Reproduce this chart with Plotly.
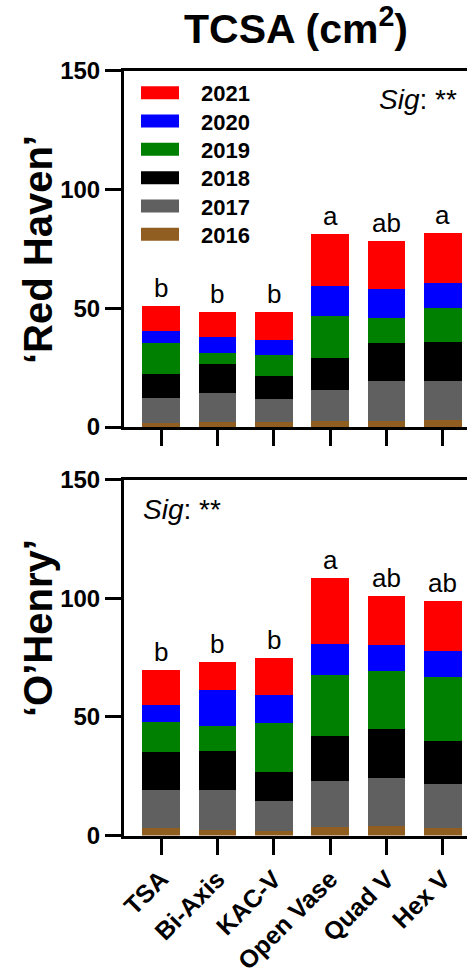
import plotly.graph_objects as go

W, H = 467, 972

categories = ["TSA", "Bi-Axis", "KAC-V", "Open Vase", "Quad V", "Hex V"]
years = ["2016", "2017", "2018", "2019", "2020", "2021"]
colors = ["#8F5E20", "#606060", "#000000", "#008000", "#0000FF", "#FF0000"]
y_ticks = [0, 50, 100, 150]

# 'Red Haven' yearly TCSA increments (cm2)
rh_2016 = [1.8, 2.0, 2.0, 2.4, 2.7, 2.8]
rh_2017 = [10.4, 12.5, 9.7, 13.2, 16.5, 16.6]
rh_2018 = [10.1, 12.2, 9.8, 13.5, 16.3, 16.4]
rh_2019 = [13.1, 4.5, 8.7, 17.4, 10.3, 14.3]
rh_2020 = [4.9, 6.7, 6.5, 12.9, 12.2, 10.7]
rh_2021 = [10.5, 10.3, 11.5, 21.8, 20.4, 20.8]
rh_letters = ["b", "b", "b", "a", "ab", "a"]

# 'O'Henry' yearly TCSA increments (cm2)
oh_2016 = [3.2, 2.5, 2.0, 3.4, 3.9, 3.0]
oh_2017 = [16.1, 16.7, 12.6, 19.4, 20.5, 18.5]
oh_2018 = [15.9, 16.4, 12.2, 19.0, 20.5, 18.5]
oh_2019 = [12.8, 10.7, 20.8, 25.7, 24.4, 26.9]
oh_2020 = [6.9, 15.2, 11.4, 13.3, 10.8, 10.7]
oh_2021 = [14.8, 11.7, 15.9, 27.7, 20.7, 21.4]
oh_letters = ["b", "b", "b", "a", "ab", "ab"]

rh_series = [rh_2016, rh_2017, rh_2018, rh_2019, rh_2020, rh_2021]
oh_series = [oh_2016, oh_2017, oh_2018, oh_2019, oh_2020, oh_2021]

FONT = "Liberation Sans"

def py(px):
    return 1 - px / H

def pxx(px):
    return px / W

fig = go.Figure()

for series, xa, ya in [(rh_series, "x", "y"), (oh_series, "x2", "y2")]:
    for yr, col, vals in zip(years, colors, series):
        fig.add_trace(go.Bar(
            x=categories, y=vals, name=yr, marker=dict(color=col, line=dict(width=0)),
            width=0.67, xaxis=xa, yaxis=ya, showlegend=False,
        ))

axis_common = dict(showline=True, linewidth=3, linecolor="black", ticks="outside",
                   ticklen=16, tickwidth=3, tickcolor="black", showgrid=False, zeroline=False,
                   automargin=False)

xdom = [124 / W, 1]
xrange_ = [-0.656, 5.426]

fig.update_layout(
    width=W, height=H, margin=dict(l=0, r=0, t=0, b=0, pad=0), autosize=False,
    plot_bgcolor="white", paper_bgcolor="white", barmode="stack",
    font=dict(family=FONT, color="black"),
    xaxis=dict(domain=xdom, anchor="y", range=xrange_, type="category",
               showticklabels=False, mirror=True, **axis_common),
    yaxis=dict(domain=[py(427), py(70.5)], anchor="x", range=[0, 150],
               tickvals=y_ticks, tickfont=dict(size=24, family=FONT, weight="bold"), **axis_common),
    xaxis2=dict(domain=xdom, anchor="y2", range=xrange_, type="category",
                tickangle=-45, tickfont=dict(size=25, family=FONT, weight="bold"),
                mirror=True, **axis_common),
    yaxis2=dict(domain=[py(835.5), py(479.5)], anchor="x2", range=[0, 150],
                tickvals=y_ticks, tickfont=dict(size=24, family=FONT, weight="bold"), **axis_common),
)

annotations = []
# significance letters above bars
for series, letters, xr, yr in [(rh_series, rh_letters, "x", "y"), (oh_series, oh_letters, "x2", "y2")]:
    totals = [sum(v[i] for v in series) for i in range(len(categories))]
    for c, t, l in zip(categories, totals, letters):
        annotations.append(dict(x=c, y=t, xref=xr, yref=yr, text=l, showarrow=False,
                                yanchor="bottom", yshift=1, font=dict(size=26, family=FONT)))

# title
annotations.append(dict(x=pxx(296), y=py(26), xref="paper", yref="paper",
                        text="<b>TCSA (cm<sup>2</sup>)</b>", showarrow=False,
                        xanchor="center", yanchor="middle", font=dict(size=41, family=FONT)))
# row titles
annotations.append(dict(x=pxx(38), y=py(250), xref="paper", yref="paper",
                        text="<b>‘Red Haven’</b>", textangle=-90, showarrow=False,
                        xanchor="center", yanchor="middle", font=dict(size=40, family=FONT)))
annotations.append(dict(x=pxx(38), y=py(628), xref="paper", yref="paper",
                        text="<b>‘O’Henry’</b>", textangle=-90, showarrow=False,
                        xanchor="center", yanchor="middle", font=dict(size=40, family=FONT)))
# Sig labels
annotations.append(dict(x=pxx(459), y=py(100), xref="paper", yref="paper",
                        text="<i>Sig</i>: **", showarrow=False,
                        xanchor="right", yanchor="middle", font=dict(size=28, family=FONT)))
annotations.append(dict(x=pxx(141), y=py(509), xref="paper", yref="paper",
                        text="<i>Sig</i>: **", showarrow=False,
                        xanchor="left", yanchor="middle", font=dict(size=28, family=FONT)))

# custom legend (top panel), newest year first
shapes = []
row_centers = [92.7, 121.0, 149.3, 177.7, 206.0, 234.3]
for yc, yr_lbl, col in zip(row_centers, years[::-1], colors[::-1]):
    shapes.append(dict(type="rect", xref="paper", yref="paper",
                       x0=pxx(141), x1=pxx(179), y0=py(yc + 6.5), y1=py(yc - 6.5),
                       fillcolor=col, line=dict(width=0)))
    annotations.append(dict(x=pxx(199), y=py(yc + 1), xref="paper", yref="paper",
                            text="<b>%s</b>" % yr_lbl, showarrow=False,
                            xanchor="left", yanchor="middle", font=dict(size=22, family=FONT)))

fig.update_layout(annotations=annotations, shapes=shapes)

fig.write_html("out.html", config={"displayModeBar": False},
               post_script="document.body.style.margin='0';document.body.style.overflow='hidden';")
